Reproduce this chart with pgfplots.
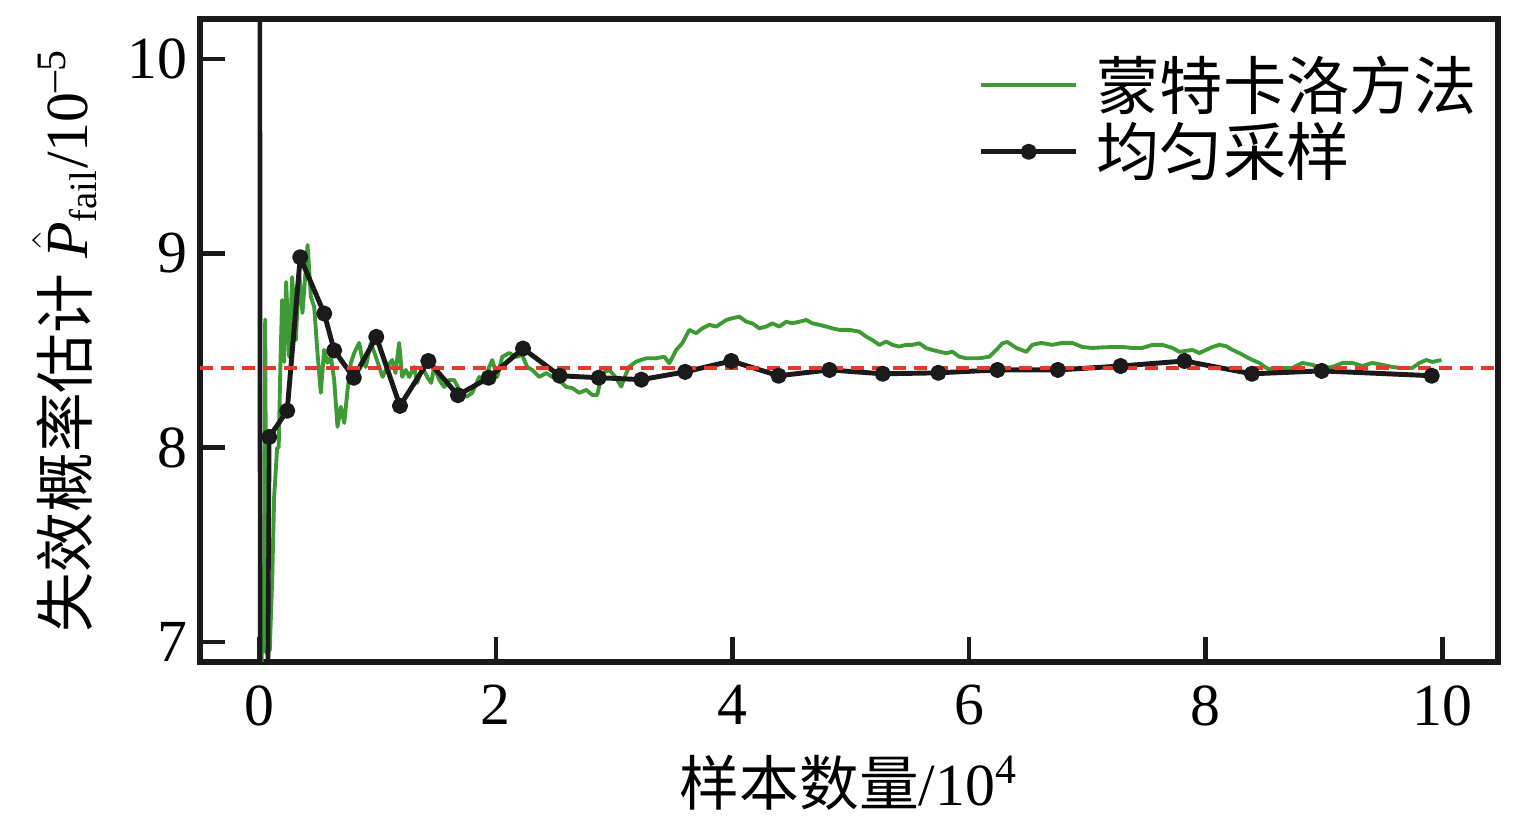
\documentclass[border=0pt]{standalone}
\usepackage{fontspec}
\setmainfont{Liberation Serif}
\newfontfamily\cjk{Noto Sans CJK SC}
\usepackage{pgfplots}
\usepackage{pgfplotstable}
\pgfplotsset{compat=1.18}
\definecolor{mcgreen}{RGB}{61,154,53}
\definecolor{refred}{RGB}{232,56,46}
\definecolor{axblack}{RGB}{26,26,26}

\pgfplotstableread{
x y
0.015 6.6
0.030 7.39
0.040 6.95
0.051 8.66
0.058 7.6
0.066 6.94
0.090 6.96
0.110 7.32
0.127 7.75
0.152 8.0
0.165 8.0
0.180 8.44
0.194 8.76
0.211 8.44
0.228 8.853
0.254 8.467
0.279 8.878
0.310 8.554
0.338 8.90
0.366 8.693
0.409 9.043
0.437 8.776
0.465 8.724
0.493 8.487
0.521 8.282
0.549 8.503
0.578 8.436
0.606 8.467
0.634 8.348
0.662 8.107
0.690 8.21
0.719 8.127
0.747 8.297
0.775 8.436
0.803 8.487
0.845 8.539
0.873 8.451
0.901 8.415
0.944 8.539
0.986 8.467
1.043 8.364
1.082 8.415
1.124 8.451
1.152 8.384
1.183 8.539
1.209 8.364
1.240 8.40
1.268 8.364
1.310 8.415
1.336 8.333
1.378 8.415
1.420 8.364
1.454 8.333
1.479 8.415
1.522 8.348
1.564 8.312
1.606 8.348
1.648 8.348
1.691 8.297
1.750 8.261
1.800 8.282
1.860 8.364
1.902 8.333
1.944 8.415
1.970 8.451
2.012 8.364
2.054 8.467
2.113 8.487
2.172 8.467
2.223 8.477
2.265 8.415
2.308 8.40
2.367 8.364
2.426 8.384
2.477 8.364
2.536 8.348
2.595 8.312
2.646 8.307
2.705 8.282
2.764 8.297
2.815 8.271
2.857 8.271
2.899 8.383
2.959 8.40
3.009 8.365
3.060 8.314
3.102 8.383
3.128 8.417
3.187 8.443
3.271 8.460
3.356 8.460
3.424 8.468
3.466 8.434
3.525 8.503
3.576 8.537
3.635 8.606
3.694 8.589
3.745 8.614
3.804 8.632
3.863 8.623
3.948 8.657
3.998 8.666
4.058 8.674
4.117 8.648
4.167 8.640
4.227 8.614
4.286 8.623
4.336 8.640
4.396 8.623
4.455 8.648
4.505 8.640
4.565 8.648
4.624 8.657
4.675 8.640
4.734 8.632
4.793 8.623
4.844 8.614
4.903 8.606
4.987 8.606
5.072 8.597
5.131 8.571
5.182 8.554
5.241 8.529
5.300 8.546
5.351 8.529
5.410 8.520
5.469 8.529
5.520 8.529
5.579 8.537
5.638 8.512
5.689 8.503
5.748 8.494
5.807 8.486
5.858 8.494
5.917 8.468
5.976 8.460
6.027 8.460
6.086 8.460
6.171 8.468
6.230 8.503
6.281 8.537
6.323 8.544
6.399 8.513
6.484 8.493
6.534 8.529
6.610 8.539
6.703 8.529
6.788 8.539
6.872 8.539
6.957 8.518
7.041 8.513
7.126 8.516
7.210 8.518
7.295 8.518
7.380 8.513
7.464 8.513
7.549 8.529
7.633 8.529
7.718 8.513
7.777 8.493
7.887 8.503
7.946 8.487
8.056 8.518
8.115 8.529
8.174 8.522
8.225 8.503
8.284 8.487
8.343 8.467
8.394 8.451
8.453 8.436
8.512 8.410
8.563 8.400
8.647 8.410
8.732 8.410
8.817 8.436
8.901 8.426
8.986 8.410
9.070 8.415
9.155 8.436
9.239 8.436
9.324 8.420
9.408 8.436
9.493 8.426
9.577 8.415
9.662 8.410
9.746 8.410
9.806 8.436
9.865 8.451
9.915 8.441
9.992 8.451
}\mcdata

\pgfplotstableread{
x y
0.085 8.055
0.237 8.19
0.347 8.98
0.550 8.69
0.634 8.50
0.800 8.36
0.990 8.57
1.190 8.215
1.430 8.446
1.680 8.27
1.940 8.36
2.230 8.51
2.540 8.37
2.870 8.36
3.230 8.35
3.600 8.39
3.990 8.446
4.390 8.37
4.820 8.40
5.270 8.38
5.740 8.385
6.240 8.40
6.750 8.40
7.280 8.42
7.820 8.446
8.390 8.38
8.980 8.395
9.910 8.37
}\usdata

\begin{document}
\begin{tikzpicture}[font=\fontsize{17}{20}\selectfont]
\useasboundingbox (-2.0cm,-1.55cm) rectangle (13.21cm,6.62cm);
\begin{axis}[
  scale only axis, width=12.98cm, height=6.43cm,
  xmin=-0.5, xmax=10.47, ymin=6.897, ymax=10.206,
  axis line style={line width=1.6pt, draw=axblack},
  tick align=inside, xtick pos=bottom, ytick pos=left,
  major tick length=2.5mm,
  every tick/.style={line width=1.3pt, axblack},
  xtick={0,2,4,6,8,10}, ytick={7,8,9,10},
  ticklabel style={font=\fontsize{17}{20}\selectfont},
  /pgf/number format/assume math mode=true,
  xticklabel style={yshift=-1.1mm},
  xlabel={{\cjk 样本数量}/10\textsuperscript{4}},
  xlabel style={at={(axis description cs:0.5,0)}, anchor=center, yshift=-12.1mm, font=\fontsize{17}{20}\selectfont},
  ylabel={{\cjk 失效概率估计} $\hat{\hbox{\itshape P}}_{\hbox{\fontsize{11}{12}\selectfont fail}}$/10\textsuperscript{–5}},
  ylabel style={at={([xshift=-13.5mm]axis description cs:0,0.5)}, anchor=center, font=\fontsize{17}{20}\selectfont},
  legend style={draw=none, fill=none, inner sep=0pt,
    at={([xshift=-2.1mm,yshift=-3.6mm]axis description cs:1,1)}, anchor=north east,
    column sep=1.8mm, row sep=0.8mm, font=\fontsize{18}{20}\selectfont,
    nodes={inner sep=0pt}},
  legend cell align=left,
  legend image code/.code={\draw[mark repeat=2, mark phase=2, #1] plot coordinates {(0cm,0cm) (0.475cm,0cm) (0.95cm,0cm)};},
]
\addplot[mcgreen, line width=1.1pt, no marks, line join=round] table[x=x,y=y] {\mcdata};
\addlegendentry{{\cjk 蒙特卡洛方法}}
\addplot[axblack, line width=1.3pt, no marks, forget plot] coordinates {(0,30) (0.01,0) (0.085,8.055)};
\addplot[axblack, line width=1.4pt, mark=*, mark size=1.6pt, mark options={solid, fill=axblack}, line join=round] table[x=x,y=y] {\usdata};
\addlegendentry{{\cjk 均匀采样}}
\addplot[refred, line width=1.1pt, dash pattern=on 1.3mm off 0.8mm, forget plot] coordinates {(-0.5,8.41) (10.47,8.41)};
\end{axis}
\end{tikzpicture}
\end{document}
